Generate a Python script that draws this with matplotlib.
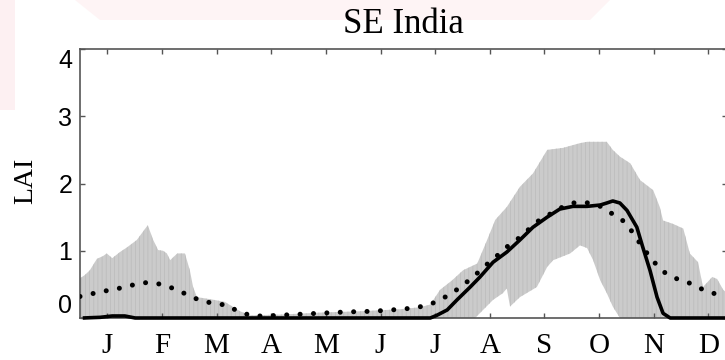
import matplotlib
matplotlib.use("Agg")
import matplotlib.pyplot as plt
import numpy as np

# ---------------- data (x in month units, 0 = start of January) ----------------
month_labels = ["J", "F", "M", "A", "M", "J", "J", "A", "S", "O", "N", "D"]
ytick_values = [0, 1, 2, 3, 4]

upper_x = [0.00, 0.09, 0.18, 0.31, 0.42, 0.49, 0.59, 0.73, 0.86, 1.04, 1.24, 1.34,
           1.43, 1.52, 1.59, 1.65, 1.78, 1.92, 2.01, 2.07, 2.14, 2.38, 2.65, 2.93,
           3.11, 3.66, 4.39, 5.12, 5.86, 6.22, 6.41, 6.59, 6.81, 7.01, 7.27, 7.45,
           7.60, 7.81, 8.05, 8.29, 8.55, 8.84, 9.15, 9.28, 9.64, 9.75, 9.88, 10.07,
           10.25, 10.49, 10.61, 10.67, 10.85, 11.04, 11.16, 11.31, 11.40, 11.57,
           11.66, 11.77, 11.84]
upper_y = [0.59, 0.64, 0.71, 0.88, 0.92, 0.96, 0.89, 0.98, 1.05, 1.16, 1.38, 1.16,
           1.01, 1.00, 0.96, 0.86, 0.96, 0.96, 0.71, 0.46, 0.31, 0.28, 0.24, 0.10,
           0.04, 0.05, 0.08, 0.10, 0.13, 0.16, 0.20, 0.42, 0.56, 0.71, 0.81, 1.16,
           1.46, 1.65, 1.95, 2.15, 2.50, 2.53, 2.60, 2.62, 2.62, 2.50, 2.40, 2.30,
           2.05, 1.90, 1.65, 1.45, 1.40, 1.33, 0.96, 0.83, 0.46, 0.61,
           0.58, 0.42, 0.37]

lower_x = [0.00, 7.23, 7.56, 7.74, 7.81, 7.87, 8.05, 8.36, 8.55, 8.66, 8.97, 9.15,
           9.28, 9.39, 9.52, 9.64, 9.75, 9.88, 11.84]
lower_y = [0.00, 0.00, 0.27, 0.37, 0.44, 0.17, 0.31, 0.46, 0.76, 0.86, 0.96, 1.08,
           1.04, 0.86, 0.56, 0.37, 0.17, 0.00, 0.00]

solid_x = [0.05, 0.37, 0.59, 0.82, 1.01, 6.41, 6.53, 6.72, 6.90, 7.14, 7.32, 7.56,
           7.81, 8.05, 8.29, 8.55, 8.78, 9.02, 9.28, 9.52, 9.64, 9.75, 9.88, 10.01,
           10.19, 10.30, 10.43, 10.56, 10.67, 10.80, 11.84]
solid_y = [0.00, 0.01, 0.03, 0.03, 0.00, 0.00, 0.04, 0.12, 0.27, 0.46, 0.61, 0.83,
           0.98, 1.16, 1.35, 1.50, 1.62, 1.66, 1.66, 1.68, 1.71, 1.74, 1.71, 1.60,
           1.35, 1.05, 0.71, 0.31, 0.07, 0.00, 0.00]

dotted_x = [0.00, 0.27, 0.51, 0.77, 1.01, 1.24, 1.50, 1.74, 1.98, 2.20, 2.43, 2.69,
            2.89, 3.15, 3.39, 3.88, 4.36, 4.87, 5.36, 5.87, 6.11, 6.37, 6.59, 6.81,
            7.01, 7.21, 7.39, 7.60, 7.78, 7.96, 8.16, 8.36, 8.57, 8.78, 9.00, 9.24,
            9.48, 9.70, 9.92, 10.08, 10.23, 10.38, 10.52, 10.71, 10.93, 11.15, 11.38,
            11.62, 11.84]
dotted_y = [0.32, 0.37, 0.41, 0.45, 0.50, 0.53, 0.50, 0.43, 0.34, 0.26, 0.22, 0.19,
            0.10, 0.03, 0.03, 0.05, 0.07, 0.09, 0.10, 0.13, 0.15, 0.19, 0.27, 0.37,
            0.49, 0.62, 0.76, 0.90, 1.04, 1.14, 1.28, 1.43, 1.53, 1.63, 1.71, 1.72,
            1.68, 1.57, 1.46, 1.31, 1.13, 0.96, 0.82, 0.67, 0.58, 0.52, 0.43,
            0.36, 0.30]

# ---------------- figure ----------------
W, H = 725, 360
fig = plt.figure(figsize=(W / 100, H / 100), dpi=100)
fig.patch.set_facecolor("white")

# faint watermark remnants of the source page
from matplotlib.patches import Polygon, Rectangle
fig.patches.append(Rectangle((0, 1 - 110 / H), 15 / W, 110 / H, transform=fig.transFigure,
                             facecolor="#fdf0f2", edgecolor="none", zorder=-5))
fig.patches.append(Polygon([(75 / W, 1), (610 / W, 1), (590 / W, 1 - 20 / H), (100 / W, 1 - 20 / H)],
                           closed=True, transform=fig.transFigure,
                           facecolor="#fef4f5", edgecolor="none", zorder=-5))

ax = fig.add_axes([80 / W, 42 / H, 647 / W, 269 / H])
ax.set_zorder(1)
ax.set_facecolor("none")

band_px = np.r_[upper_x, lower_x[::-1]]
band_py = np.r_[upper_y, lower_y[::-1]]
plt.rcParams["hatch.linewidth"] = 0.6
ax.fill(band_px, band_py, facecolor="#cbcbcb", edgecolor="#bdbdbd", hatch="||||",
        linewidth=0, zorder=1)

ax.plot(dotted_x, dotted_y, color="black", linewidth=3.6,
        linestyle=(0, (0.01, 2.67)), dash_capstyle="round", zorder=3)
ax.plot(solid_x, solid_y, color="black", linewidth=2.6, solid_capstyle="butt",
        solid_joinstyle="round", zorder=4, clip_on=False)

ax.set_xlim(0, 11.84)
ax.set_ylim(0, 4)

ax.set_xticks(np.arange(len(month_labels)) + 0.5)
ax.set_xticklabels(month_labels, fontfamily="Liberation Serif", fontsize=21)
ax.set_yticks(ytick_values)
ax.set_yticklabels([str(v) for v in ytick_values], fontfamily="Liberation Sans", fontsize=18)

ax.tick_params(axis="both", direction="in", length=3.6, width=1.0, color="#555555",
               top=True, right=True)
ax.tick_params(axis="x", pad=11)
ax.tick_params(axis="y", pad=5.5)

ylabs = ax.get_yticklabels()
ylabs[0].set_va("bottom")
ylabs[-1].set_va("top")

for sp in ax.spines.values():
    sp.set_color("#555555")
    sp.set_linewidth(1.2)

ax.set_title("SE India", fontfamily="Liberation Serif", fontsize=25, pad=11.5)
ax.set_ylabel("LAI", fontfamily="Liberation Serif", fontsize=20, va="center")
ax.yaxis.set_label_coords(-0.0835, 0.51)

fig.savefig("out.png", dpi=100)
